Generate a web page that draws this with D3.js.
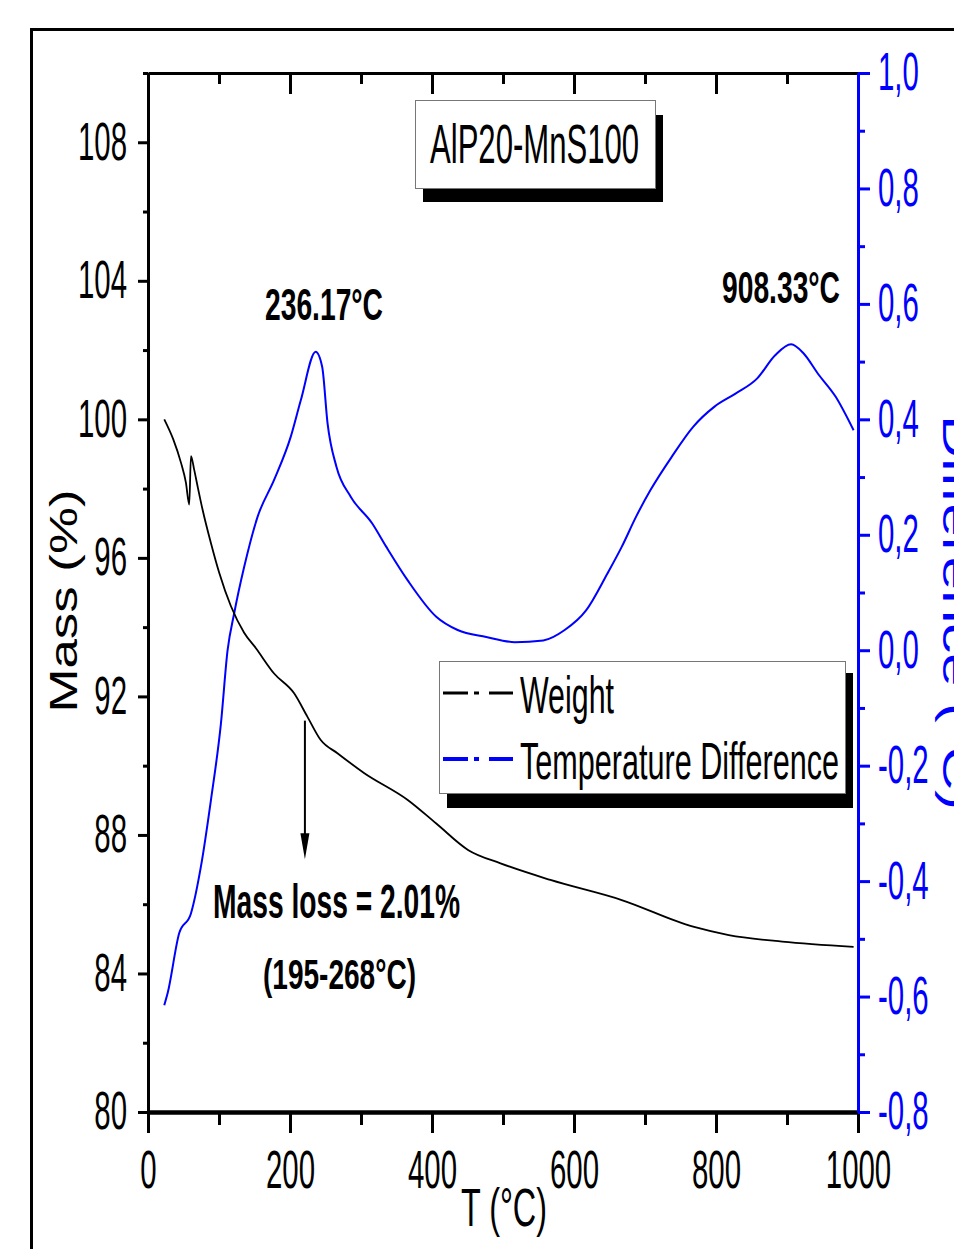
<!DOCTYPE html>
<html>
<head>
<meta charset="utf-8">
<script src="https://cdn.jsdelivr.net/npm/d3@7"></script>
<style>
  body { margin: 0; background: #fff; }
  text { font-family: "Liberation Sans", Arial, sans-serif; }
</style>
</head>
<body>
<div id="chart"></div>
<script>
// Weight (TG) curve
const massT   = [22.9, 35.6, 46.4, 53.4, 58.1, 60.5, 65.1, 69.9, 76.9, 88.6, 100.3, 116.7, 135.4, 152, 177.6, 205.8, 224.6, 243.3, 266.8, 304.2, 365.8, 406.0, 451.3, 496.5, 566.8, 667.2, 767.8, 818.0, 893.2, 993.8];
const massVal = [100.0, 99.42, 98.75, 98.17, 97.54, 98.94, 98.54, 98.06, 97.39, 96.43, 95.57, 94.61, 93.84, 93.39, 92.66, 92.09, 91.41, 90.74, 90.36, 89.79, 89.01, 88.33, 87.56, 87.18, 86.70, 86.12, 85.35, 85.11, 84.92, 84.77];

// Temperature difference (DTA) curve
const dtaT   = [22.9, 27.7, 44.0, 60.5, 74.5, 88.6, 102.7, 112.1, 121.4, 135.4, 154.3, 177.6, 201.1, 215.2, 236.2, 245.3, 252.9, 265.4, 285.5, 315.6, 335.7, 365.8, 406.0, 436.1, 476.4, 516.6, 556.8, 586.9, 617.0, 647.1, 667.2, 687.3, 707.5, 737.6, 767.8, 797.9, 828.0, 858.1, 883.3, 905.8, 923.5, 943.6, 968.6, 993.8];
const dtaVal = [-0.615, -0.594, -0.490, -0.456, -0.375, -0.260, -0.127, 0.0, 0.064, 0.144, 0.231, 0.295, 0.370, 0.433, 0.517, 0.491, 0.393, 0.318, 0.266, 0.220, 0.179, 0.121, 0.058, 0.035, 0.023, 0.014, 0.017, 0.035, 0.069, 0.133, 0.179, 0.231, 0.277, 0.335, 0.387, 0.422, 0.445, 0.471, 0.511, 0.530, 0.514, 0.479, 0.439, 0.381];

// ticks
const xMajor = [0, 200, 400, 600, 800, 1000];
const xMinor = [100, 300, 500, 700, 900];
const yLMajor = [80, 84, 88, 92, 96, 100, 104, 108];
const yLMinor = [82, 86, 90, 94, 98, 102, 106, 110];
const yRMajor = [-0.8, -0.6, -0.4, -0.2, 0.0, 0.2, 0.4, 0.6, 0.8, 1.0];
const yRMinor = [-0.7, -0.5, -0.3, -0.1, 0.1, 0.3, 0.5, 0.7, 0.9];

// annotations
const sampleName = "AlP20-MnS100";
const peak1Label = "236.17°C";
const peak2Label = "908.33°C";
const lossLabel = "Mass loss = 2.01%";
const rangeLabel = "(195-268°C)";
const arrowT = 221, arrowFrom = 91.3, arrowTo = 87.3;
const seriesNames = ["Weight", "Temperature Difference"];

var width = 954, height = 1249;
var blue = "#0000ff";

var svg = d3.select("#chart").append("svg")
    .attr("width", width)
    .attr("height", height);

// narrow the text like the condensed font of the original
function squeeze(sel, f) {
    sel.each(function() {
        var w = this.getComputedTextLength();
        d3.select(this).attr("textLength", w * f).attr("lengthAdjust", "spacingAndGlyphs");
    });
}
function fixLen(sel, len) {
    sel.attr("textLength", len).attr("lengthAdjust", "spacingAndGlyphs");
}

// outer frame
svg.append("rect")
    .attr("x", 31.5).attr("y", 29.5)
    .attr("width", 1000).attr("height", 1300)
    .attr("fill", "none").attr("stroke", "#000").attr("stroke-width", 3);

var x = d3.scaleLinear().domain([0, 1000]).range([148, 858]);
var yL = d3.scaleLinear().domain([80, 110]).range([1112, 73]);
var yR = d3.scaleLinear().domain([-0.8, 1.0]).range([1112, 73]);

// --- axes ---
function styleAxis(g, color, w) {
    g.selectAll("path.domain").attr("stroke", color).attr("stroke-width", w);
    g.selectAll(".tick line").attr("stroke", color).attr("stroke-width", 3);
    g.selectAll(".tick text").attr("fill", color);
}

// top: inward ticks, no labels
var gTop = svg.append("g").attr("transform", "translate(0,73)")
    .call(d3.axisTop(x).tickValues(xMajor).tickSize(-21).tickSizeOuter(0).tickFormat(""));
svg.append("g").attr("transform", "translate(0,73)")
    .call(d3.axisTop(x).tickValues(xMinor).tickSize(-11).tickSizeOuter(0).tickFormat(""))
    .call(g => g.select(".domain").remove())
    .call(g => g.selectAll(".tick line").attr("stroke-width", 3));
styleAxis(gTop, "#000", 3);

// bottom
var gBot = svg.append("g").attr("transform", "translate(0,1112)")
    .call(d3.axisBottom(x).tickValues(xMajor).tickSize(21).tickSizeOuter(0).tickPadding(17)
        .tickFormat(d3.format("d")));
svg.append("g").attr("transform", "translate(0,1112)")
    .call(d3.axisBottom(x).tickValues(xMinor).tickSize(13).tickSizeOuter(0).tickFormat(""))
    .call(g => g.select(".domain").remove())
    .call(g => g.selectAll(".tick line").attr("stroke-width", 3));
styleAxis(gBot, "#000", 4.5);
gBot.selectAll(".tick text").attr("font-size", 53).call(squeeze, 0.555);

// left
var gLeft = svg.append("g").attr("transform", "translate(148,0)")
    .call(d3.axisLeft(yL).tickValues(yLMajor).tickSize(10).tickSizeOuter(0).tickPadding(11));
svg.append("g").attr("transform", "translate(148,0)")
    .call(d3.axisLeft(yL).tickValues(yLMinor).tickSize(5).tickSizeOuter(0).tickFormat(""))
    .call(g => g.select(".domain").remove())
    .call(g => g.selectAll(".tick line").attr("stroke-width", 3));
styleAxis(gLeft, "#000", 3);
gLeft.selectAll(".tick text").attr("font-size", 53).call(squeeze, 0.555);

// right (blue)
var gRight = svg.append("g").attr("transform", "translate(858,0)")
    .call(d3.axisRight(yR).tickValues(yRMajor).tickSize(12).tickSizeOuter(0).tickPadding(8)
        .tickFormat(d => d.toFixed(1).replace(".", ",")));
svg.append("g").attr("transform", "translate(858,0)")
    .call(d3.axisRight(yR).tickValues(yRMinor).tickSize(7).tickSizeOuter(0).tickFormat(""))
    .call(g => g.select(".domain").attr("stroke", blue).attr("stroke-width", 3))
    .call(g => g.selectAll(".tick line").attr("stroke", blue).attr("stroke-width", 3));
styleAxis(gRight, blue, 3);
gRight.selectAll(".tick text").attr("font-size", 53).call(squeeze, 0.555);

// axis titles
svg.append("text")
    .attr("transform", "translate(77,601) rotate(-90)")
    .attr("text-anchor", "middle").attr("font-size", 38)
    .text("Mass (%)").call(fixLen, 223);

// right title runs off the page edge, as in the original
svg.append("text")
    .attr("transform", "translate(943,415) rotate(90)")
    .attr("font-size", 38).attr("fill", blue)
    .text("Difference (°C)").call(fixLen, 395);

svg.append("text")
    .attr("x", 461).attr("y", 1226)
    .attr("font-size", 54)
    .text("T (°C)").call(fixLen, 86);

// --- curves ---
var massData = massT.map((t, i) => [t, massVal[i]]);
var dtaData = dtaT.map((t, i) => [t, dtaVal[i]]);

svg.append("path")
    .datum(dtaData)
    .attr("fill", "none").attr("stroke", blue).attr("stroke-width", 2)
    .attr("d", d3.line().x(d => x(d[0])).y(d => yR(d[1])).curve(d3.curveMonotoneX));

svg.append("path")
    .datum(massData)
    .attr("fill", "none").attr("stroke", "#000").attr("stroke-width", 1.8)
    .attr("d", d3.line().x(d => x(d[0])).y(d => yL(d[1])).curve(d3.curveMonotoneX));

// mass loss arrow
var ax = x(arrowT), ay0 = yL(arrowFrom), ay1 = yL(arrowTo);
svg.append("line")
    .attr("x1", ax).attr("x2", ax).attr("y1", ay0).attr("y2", ay1 - 10)
    .attr("stroke", "#000").attr("stroke-width", 2);
svg.append("path")
    .attr("d", "M" + (ax - 4.5) + "," + (ay1 - 26) + "L" + (ax + 4.5) + "," + (ay1 - 26) + "L" + ax + "," + ay1 + "Z")
    .attr("fill", "#000");

// --- annotations ---
svg.append("text").attr("x", 265).attr("y", 320)
    .attr("font-size", 44).attr("font-weight", "bold")
    .text(peak1Label).call(fixLen, 118);
svg.append("text").attr("x", 722).attr("y", 303)
    .attr("font-size", 44).attr("font-weight", "bold")
    .text(peak2Label).call(fixLen, 118);
svg.append("text").attr("x", 213).attr("y", 918)
    .attr("font-size", 48).attr("font-weight", "bold")
    .text(lossLabel).call(fixLen, 247);
svg.append("text").attr("x", 263).attr("y", 989)
    .attr("font-size", 43).attr("font-weight", "bold")
    .text(rangeLabel).call(fixLen, 153);

// sample name box
svg.append("rect").attr("x", 423).attr("y", 115).attr("width", 240).attr("height", 87).attr("fill", "#000");
svg.append("rect").attr("x", 415.5).attr("y", 100.5).attr("width", 240).attr("height", 88)
    .attr("fill", "#fff").attr("stroke", "#777").attr("stroke-width", 1);
svg.append("text").attr("x", 430).attr("y", 163)
    .attr("font-size", 55)
    .text(sampleName).call(fixLen, 209);

// legend
var legend = svg.append("g");
legend.append("rect").attr("x", 447).attr("y", 673).attr("width", 406).attr("height", 135).attr("fill", "#000");
legend.append("rect").attr("x", 439.5).attr("y", 661.5).attr("width", 406).attr("height", 132)
    .attr("fill", "#fff").attr("stroke", "#777").attr("stroke-width", 1);

var rows = legend.selectAll("g.row")
    .data(seriesNames)
    .enter().append("g")
    .attr("class", "row")
    .attr("transform", (d, i) => "translate(0," + (693 + i * 66) + ")");
rows.append("line")
    .attr("x1", 443).attr("x2", 513).attr("y1", 0).attr("y2", 0)
    .attr("stroke", (d, i) => i === 0 ? "#000" : blue)
    .attr("stroke-width", (d, i) => i === 0 ? 3 : 4)
    .attr("stroke-dasharray", "25,6,5,10,25");
rows.append("text")
    .attr("x", 520).attr("y", 20)
    .attr("font-size", 52)
    .text(d => d)
    .each(function(d, i) { d3.select(this).call(fixLen, i === 0 ? 94 : 319); });
</script>
</body>
</html>
